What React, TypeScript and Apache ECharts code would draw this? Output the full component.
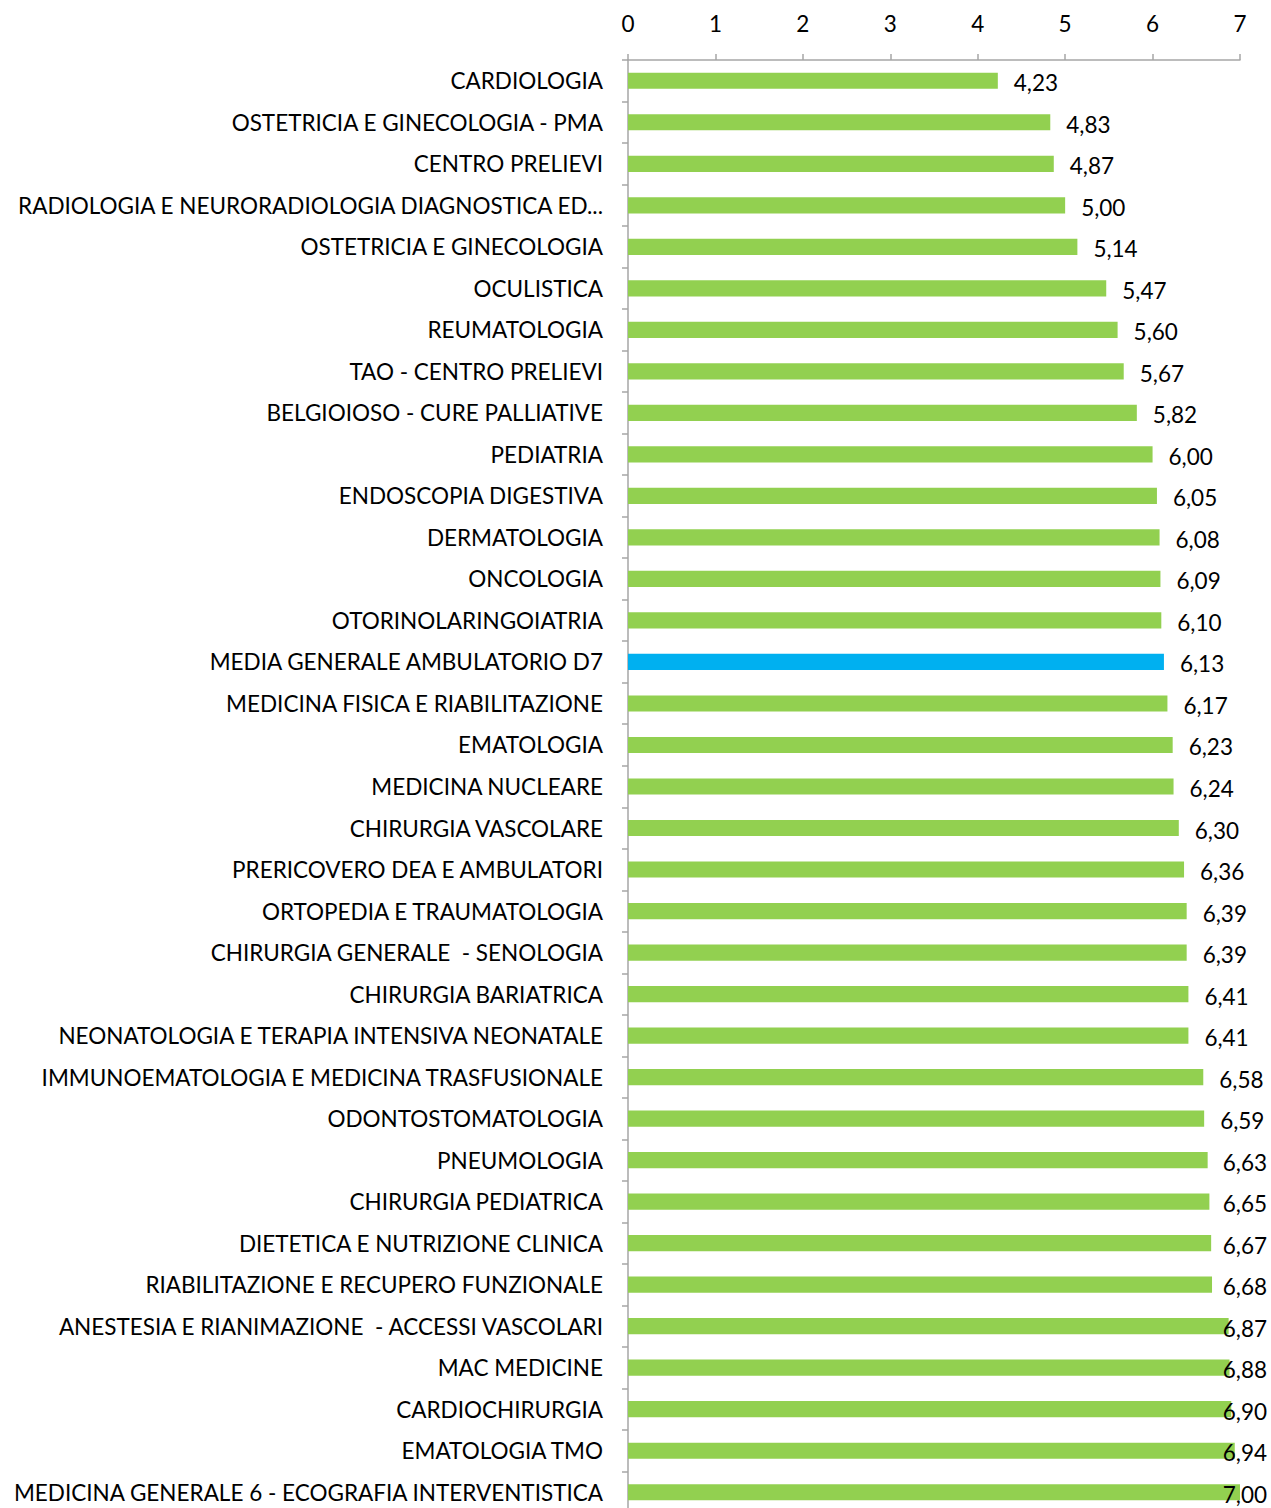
import React, { useEffect, useRef } from "react";
import * as echarts from "echarts";

const categories: string[] = [
  "CARDIOLOGIA",
  "OSTETRICIA E GINECOLOGIA - PMA",
  "CENTRO PRELIEVI",
  "RADIOLOGIA E NEURORADIOLOGIA DIAGNOSTICA ED...",
  "OSTETRICIA E GINECOLOGIA",
  "OCULISTICA",
  "REUMATOLOGIA",
  "TAO - CENTRO PRELIEVI",
  "BELGIOIOSO - CURE PALLIATIVE",
  "PEDIATRIA",
  "ENDOSCOPIA DIGESTIVA",
  "DERMATOLOGIA",
  "ONCOLOGIA",
  "OTORINOLARINGOIATRIA",
  "MEDIA GENERALE AMBULATORIO D7",
  "MEDICINA FISICA E RIABILITAZIONE",
  "EMATOLOGIA",
  "MEDICINA NUCLEARE",
  "CHIRURGIA VASCOLARE",
  "PRERICOVERO DEA E AMBULATORI",
  "ORTOPEDIA E TRAUMATOLOGIA",
  "CHIRURGIA GENERALE  - SENOLOGIA",
  "CHIRURGIA BARIATRICA",
  "NEONATOLOGIA E TERAPIA INTENSIVA NEONATALE",
  "IMMUNOEMATOLOGIA E MEDICINA TRASFUSIONALE",
  "ODONTOSTOMATOLOGIA",
  "PNEUMOLOGIA",
  "CHIRURGIA PEDIATRICA",
  "DIETETICA E NUTRIZIONE CLINICA",
  "RIABILITAZIONE E RECUPERO FUNZIONALE",
  "ANESTESIA E RIANIMAZIONE  - ACCESSI VASCOLARI",
  "MAC MEDICINE",
  "CARDIOCHIRURGIA",
  "EMATOLOGIA TMO",
  "MEDICINA GENERALE 6 - ECOGRAFIA INTERVENTISTICA",
];

const values: number[] = [
  4.23, 4.83, 4.87, 5.0, 5.14, 5.47, 5.6, 5.67, 5.82, 6.0, 6.05, 6.08, 6.09,
  6.1, 6.13, 6.17, 6.23, 6.24, 6.3, 6.36, 6.39, 6.39, 6.41, 6.41, 6.58, 6.59,
  6.63, 6.65, 6.67, 6.68, 6.87, 6.88, 6.9, 6.94, 7.0,
];

const highlightCategory = "MEDIA GENERALE AMBULATORIO D7";
const xTicks: number[] = [0, 1, 2, 3, 4, 5, 6, 7];

const GREEN = "#92D050";
const BLUE = "#00B0F0";
const AXIS = "#A6A6A6";
const FONT = "Lato";
const FS = 22.5;

export default function App() {
  const ref = useRef<HTMLDivElement>(null);
  useEffect(() => {
    if (!ref.current) return;
    const chart = echarts.init(ref.current, undefined, { renderer: "svg" });
    const W = 1271;
    chart.setOption({
      animation: false,
      grid: {
        left: 628,
        right: 31,
        top: 60,
        bottom: -5,
        containLabel: false,
        outerBoundsMode: "none",
      },
      xAxis: {
        type: "value",
        position: "top",
        min: xTicks[0],
        max: xTicks[xTicks.length - 1],
        interval: 1,
        axisLine: { show: true, lineStyle: { color: AXIS, width: 1.5 } },
        axisTick: { show: true, length: 6, lineStyle: { color: AXIS, width: 1.5 } },
        splitLine: { show: false },
        axisLabel: { color: "#000", fontFamily: FONT, fontSize: FS, margin: 25 },
      },
      yAxis: {
        type: "category",
        inverse: true,
        data: categories,
        axisLine: { show: true, lineStyle: { color: AXIS, width: 1.5 } },
        axisTick: { show: true, length: 6, lineStyle: { color: AXIS, width: 1.5 } },
        axisLabel: { color: "#000", fontFamily: FONT, fontSize: FS, margin: 25, interval: 0 },
      },
      series: [
        {
          type: "bar",
          barWidth: "39%",
          data: values.map((v, i) => ({
            value: v,
            itemStyle: { color: categories[i] === highlightCategory ? BLUE : GREEN },
          })),
          label: {
            show: true,
            position: "right",
            distance: 16,
            color: "#000",
            fontFamily: FONT,
            fontSize: FS,
            formatter: (p: any) => Number(p.value).toFixed(2).replace(".", ","),
          },
          labelLayout: (params: any) => {
            const r = params.labelRect;
            const maxX = W - 4 - r.width;
            return {
              x: Math.min(r.x, maxX),
              y: r.y + r.height / 2 + 2,
              align: "left",
              verticalAlign: "middle",
            };
          },
        },
      ],
    });
    return () => chart.dispose();
  }, []);
  return (
    <div
      ref={ref}
      style={{ position: "absolute", left: 0, top: 0, width: 1271, height: 1508 }}
    />
  );
}
